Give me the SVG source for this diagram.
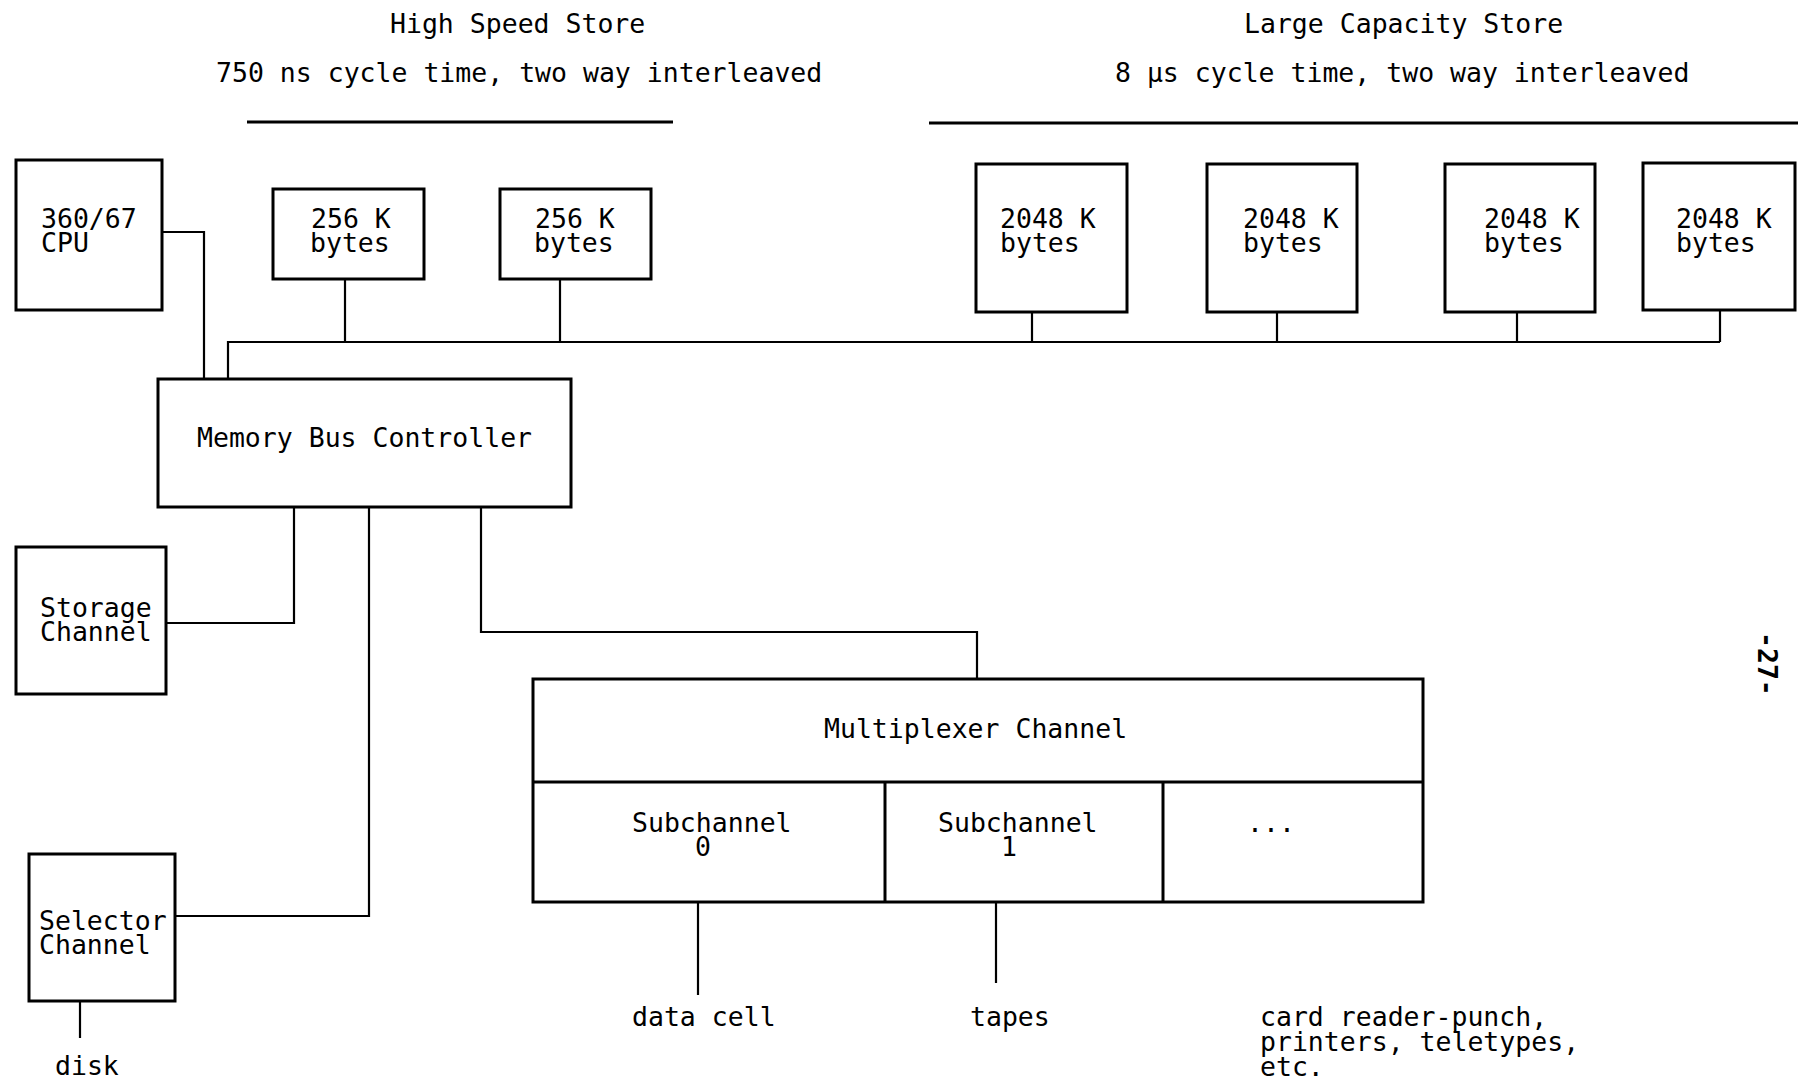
<svg xmlns="http://www.w3.org/2000/svg" width="1798" height="1081" viewBox="0 0 1798 1081">
<style>
  .box { fill: none; stroke: #000; stroke-width: 3; }
  .ln { fill: none; stroke: #000; stroke-width: 2.2; }
  .rule { fill: none; stroke: #000; stroke-width: 3; }
  text { font-family: "DejaVu Sans Mono", "Liberation Mono", monospace; font-size: 26.5px; fill: #000; }
</style>
<rect width="1798" height="1081" fill="#fff"/>

<g id="titles">
  <text x="390" y="33">High Speed Store</text>
  <text x="216" y="82">750 ns cycle time, two way interleaved</text>
  <line class="rule" x1="247" y1="122" x2="673" y2="122"/>
  <text x="1244" y="33">Large Capacity Store</text>
  <text x="1115" y="82">8 μs cycle time, two way interleaved</text>
  <line class="rule" x1="929" y1="123" x2="1798" y2="123"/>
</g>

<g id="connectors">
  <polyline class="ln" points="161,232 204,232 204,379"/>
  <polyline class="ln" points="228,379 228,342 1720,342"/>
  <line class="ln" x1="345" y1="279" x2="345" y2="342"/>
  <line class="ln" x1="560" y1="279" x2="560" y2="342"/>
  <line class="ln" x1="1032" y1="312" x2="1032" y2="342"/>
  <line class="ln" x1="1277" y1="312" x2="1277" y2="342"/>
  <line class="ln" x1="1517" y1="312" x2="1517" y2="342"/>
  <line class="ln" x1="1720" y1="310" x2="1720" y2="342"/>
  <polyline class="ln" points="294,507 294,623 166,623"/>
  <polyline class="ln" points="369,507 369,916 175,916"/>
  <polyline class="ln" points="481,507 481,632 977,632 977,679"/>
  <line class="ln" x1="80" y1="1001" x2="80" y2="1038"/>
  <line class="ln" x1="698" y1="902" x2="698" y2="995"/>
  <line class="ln" x1="996" y1="902" x2="996" y2="983"/>
</g>

<g id="cpu">
  <rect class="box" x="16" y="160" width="146" height="150"/>
  <text x="41" y="228">360/67</text>
  <text x="41" y="252">CPU</text>
</g>
<g id="hs1">
  <rect class="box" x="273" y="189" width="151" height="90"/>
  <text x="311" y="228">256 K</text>
  <text x="310" y="252">bytes</text>
</g>
<g id="hs2">
  <rect class="box" x="500" y="189" width="151" height="90"/>
  <text x="535" y="228">256 K</text>
  <text x="534" y="252">bytes</text>
</g>
<g id="lcs1">
  <rect class="box" x="976" y="164" width="151" height="148"/>
  <text x="1000" y="228">2048 K</text>
  <text x="1000" y="252">bytes</text>
</g>
<g id="lcs2">
  <rect class="box" x="1207" y="164" width="150" height="148"/>
  <text x="1243" y="228">2048 K</text>
  <text x="1243" y="252">bytes</text>
</g>
<g id="lcs3">
  <rect class="box" x="1445" y="164" width="150" height="148"/>
  <text x="1484" y="228">2048 K</text>
  <text x="1484" y="252">bytes</text>
</g>
<g id="lcs4">
  <rect class="box" x="1643" y="163" width="152" height="147"/>
  <text x="1676" y="228">2048 K</text>
  <text x="1676" y="252">bytes</text>
</g>
<g id="mbc">
  <rect class="box" x="158" y="379" width="413" height="128"/>
  <text x="197" y="447">Memory Bus Controller</text>
</g>
<g id="storage">
  <rect class="box" x="16" y="547" width="150" height="147"/>
  <text x="40" y="617">Storage</text>
  <text x="40" y="641">Channel</text>
</g>
<g id="selector">
  <rect class="box" x="29" y="854" width="146" height="147"/>
  <text x="39" y="930">Selector</text>
  <text x="39" y="954">Channel</text>
</g>
<g id="disk">
  <text x="55" y="1075">disk</text>
</g>
<g id="multiplexer">
  <rect class="box" x="533" y="679" width="890" height="223"/>
  <line class="box" x1="533" y1="782" x2="1423" y2="782"/>
  <line class="box" x1="885" y1="782" x2="885" y2="902"/>
  <line class="box" x1="1163" y1="782" x2="1163" y2="902"/>
  <text x="824" y="738">Multiplexer Channel</text>
</g>
<g id="sub0">
  <text x="632" y="832">Subchannel</text>
  <text x="695" y="856">0</text>
</g>
<g id="sub1">
  <text x="938" y="832">Subchannel</text>
  <text x="1001" y="856">1</text>
</g>
<g id="subn">
  <text x="1247" y="832">...</text>
</g>
<g id="datacell"><text x="632" y="1026">data cell</text></g>
<g id="tapes"><text x="970" y="1026">tapes</text></g>
<g id="others">
  <text x="1260" y="1026">card reader-punch,</text>
  <text x="1260" y="1051">printers, teletypes,</text>
  <text x="1260" y="1076">etc.</text>
</g>
<g id="pagenum">
  <text transform="translate(1758,632) rotate(90)" font-weight="bold">-27-</text>
</g>
</svg>
